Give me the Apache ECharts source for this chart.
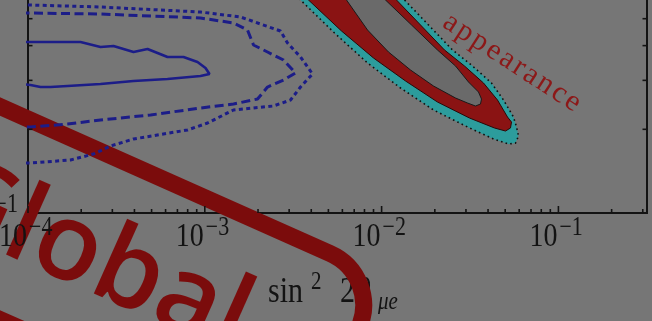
<!DOCTYPE html>
<html>
<head>
<meta charset="utf-8">
<script src="https://cdn.jsdelivr.net/npm/echarts@6/dist/echarts.min.js"></script>
<style>
  html, body { margin: 0; padding: 0; background: #767676; overflow: hidden; }
  /* the plot frame continues above the visible window */
  #chart { width: 652px; height: 386px; margin-top: -65px; }
</style>
</head>
<body>
<div id="chart"></div>
<script>
// ---- axes -------------------------------------------------------------
const xRange = [1e-4, 0.317];          // sin^2 2theta_mue
const yRange = [0.1, 1];               // mass splitting axis (log)
const xMajorTicks = [1e-4, 1e-3, 1e-2, 1e-1];
const xTickExp = ['\u22124', '\u22123', '\u22122', '\u22121'];
const xMinorTicks = [2e-4, 3e-4, 4e-4, 5e-4, 6e-4, 7e-4, 8e-4, 9e-4,
                     2e-3, 3e-3, 4e-3, 5e-3, 6e-3, 7e-3, 8e-3, 9e-3,
                     2e-2, 3e-2, 4e-2, 5e-2, 6e-2, 7e-2, 8e-2, 9e-2,
                     0.2, 0.3];
const yMajorTicks = [0.1];
const yTickExp = ['\u22121'];
const yMinorTicks = [0.2, 0.3, 0.4, 0.5, 0.6, 0.7, 0.8, 0.9];

// ---- appearance allowed region: [sin^2 2theta, dm^2] -------------------
const appearanceOuter = [
  [2.860e-3, 0.6607], [3.478e-3, 0.5837], [5.416e-3, 0.4441], [8.324e-3, 0.3464],
  [1.279e-2, 0.2816], [1.966e-2, 0.2347], [3.061e-2, 0.2039], [4.294e-2, 0.1846],
  [5.222e-2, 0.1770], [5.719e-2, 0.1785], [5.947e-2, 0.1892], [5.794e-2, 0.2039],
  [5.572e-2, 0.2214], [4.893e-2, 0.2549], [4.183e-2, 0.2935], [3.267e-2, 0.3379],
  [2.518e-2, 0.3857], [1.842e-2, 0.4746], [1.348e-2, 0.5837], [1.123e-2, 0.6607]
];
const appearanceMid = [
  [3.133e-3, 0.6607], [3.859e-3, 0.5837], [5.933e-3, 0.4515], [9.000e-3, 0.3610],
  [1.366e-2, 0.2984], [2.071e-2, 0.2507], [3.141e-2, 0.2196], [4.350e-2, 0.2022],
  [5.022e-2, 0.1972], [5.358e-2, 0.2022], [5.429e-2, 0.2124], [5.154e-2, 0.2214],
  [4.524e-2, 0.2549], [3.770e-2, 0.2935], [2.943e-2, 0.3379], [2.269e-2, 0.3857],
  [1.660e-2, 0.4746], [1.214e-2, 0.5837], [1.012e-2, 0.6607]
];
const appearanceInner = [
  [5.558e-3, 0.6607], [6.331e-3, 0.5837], [8.324e-3, 0.4553], [1.094e-2, 0.3794],
  [1.457e-2, 0.3269], [1.966e-2, 0.2863], [2.618e-2, 0.2592], [3.061e-2, 0.2487],
  [3.397e-2, 0.2426], [3.625e-2, 0.2466], [3.673e-2, 0.2570], [3.532e-2, 0.2724],
  [3.101e-2, 0.2959], [2.618e-2, 0.3379], [2.071e-2, 0.3857], [1.476e-2, 0.4746],
  [1.052e-2, 0.5837], [8.542e-3, 0.6607]
];

// ---- disappearance exclusion contours --------------------------------
const contourSolid = [
  [9.07e-5, 0.4122], [1.033e-4, 0.4122], [1.431e-4, 0.4122], [1.981e-4, 0.4122],
  [2.571e-4, 0.3954], [3.045e-4, 0.3987], [3.952e-4, 0.3794], [4.743e-4, 0.3889],
  [6.152e-4, 0.3640], [7.578e-4, 0.3640], [9.093e-4, 0.3493], [1.009e-3, 0.3323],
  [1.063e-3, 0.3162], [9.456e-4, 0.3110], [6.152e-4, 0.3034], [3.952e-4, 0.2984],
  [2.571e-4, 0.2911], [1.673e-4, 0.2863], [1.341e-4, 0.2839], [1.177e-4, 0.2839],
  [1.033e-4, 0.2887], [9.07e-5, 0.2911]
];
const contourDashed = [
  [9.07e-5, 0.5240], [1.033e-4, 0.5240], [2.571e-4, 0.5197], [9.456e-4, 0.5029],
  [1.453e-3, 0.4826], [1.744e-3, 0.4553], [1.886e-3, 0.4020], [2.263e-3, 0.3794],
  [2.787e-3, 0.3551], [3.258e-3, 0.3188], [2.787e-3, 0.3009], [2.263e-3, 0.2839],
  [1.987e-3, 0.2570], [1.453e-3, 0.2466], [9.456e-4, 0.2386], [4.931e-4, 0.2252],
  [2.571e-4, 0.2160], [1.673e-4, 0.2089], [1.033e-4, 0.2039], [9.07e-5, 0.2039]
];
const contourDotted = [
  [9.07e-5, 0.5600], [1.033e-4, 0.5600], [2.571e-4, 0.5508], [9.456e-4, 0.5284],
  [1.592e-3, 0.5070], [2.680e-3, 0.4515], [2.936e-3, 0.4088], [3.478e-3, 0.3640],
  [4.066e-3, 0.3162], [3.478e-3, 0.2839], [3.053e-3, 0.2549], [2.447e-3, 0.2426],
  [1.453e-3, 0.2347], [1.036e-3, 0.2107], [7.984e-4, 0.1989], [3.952e-4, 0.1846],
  [2.928e-4, 0.1742], [2.347e-4, 0.1630], [1.740e-4, 0.1551], [1.033e-4, 0.1513],
  [9.07e-5, 0.1513]
];

const regionLabel = 'appearance';
const stampText = 'Global';

// ---- styling ----------------------------------------------------------
const INK = '#131313';
const SERIF = '"Liberation Serif", "Times New Roman", serif';
const BLUE = '#1c1d88';
const STAMP_RED = '#7b0c0c';
const TEXT_STRETCH = 1.2;
const HIDDEN_TOP = 65;   // part of the canvas above the window

function polygonSeries(points, style, z) {
  return {
    type: 'custom', coordinateSystem: 'cartesian2d', silent: true, z: z,
    data: [points[0]],
    renderItem: function (params, api) {
      return { type: 'polygon', shape: { points: points.map(function (p) { return api.coord(p); }) }, style: style };
    }
  };
}

function contourSeries(points, width, dash, z) {
  return {
    type: 'line', data: points, symbol: 'none', silent: true, z: z, clip: true,
    lineStyle: { color: BLUE, width: width, type: dash }
  };
}

function txt(x, y, text, size, align, fontStyle) {
  return {
    type: 'text', x: x, y: y, scaleY: TEXT_STRETCH,
    style: { text: text, font: (fontStyle ? fontStyle + ' ' : '') + size + 'px ' + SERIF, fill: INK,
             textAlign: align, align: align, textVerticalAlign: 'middle', verticalAlign: 'middle' }
  };
}

const option = {
  animation: false,
  backgroundColor: '#767676',
  grid: { left: 28, right: 5, top: 0, bottom: 108, show: true,
          borderColor: INK, borderWidth: 2, backgroundColor: 'transparent' },
  xAxis: { type: 'log', logBase: 10, min: xRange[0], max: xRange[1],
           axisLine: { show: false }, axisTick: { show: false },
           axisLabel: { show: false }, splitLine: { show: false } },
  yAxis: { type: 'log', logBase: 10, min: yRange[0], max: yRange[1],
           axisLine: { show: false }, axisTick: { show: false },
           axisLabel: { show: false }, splitLine: { show: false } },
  series: [
    polygonSeries(appearanceOuter, { fill: '#2c9c9c', stroke: '#101010', lineWidth: 1.6, lineDash: [1.6, 3.2] }, 2),
    polygonSeries(appearanceMid, { fill: '#8a1313', stroke: '#2a0808', lineWidth: 1 }, 3),
    polygonSeries(appearanceInner, { fill: '#6a6a6a', stroke: '#1a1a1a', lineWidth: 1 }, 4),
    contourSeries(contourDotted, 3, [4, 3.4], 5),
    contourSeries(contourDashed, 3, [9, 4.5], 5),
    contourSeries(contourSolid, 2.6, 'solid', 5),
    // x ticks (inside, from the bottom frame)
    {
      type: 'custom', coordinateSystem: 'cartesian2d', silent: true, z: 6,
      data: xMajorTicks.map(function (v) { return [v, yRange[0], 7]; })
        .concat(xMinorTicks.map(function (v) { return [v, yRange[0], 4]; })),
      renderItem: function (params, api) {
        const p = api.coord([api.value(0), api.value(1)]);
        return { type: 'line', shape: { x1: p[0], y1: p[1], x2: p[0], y2: p[1] - api.value(2) },
                 style: { stroke: INK, lineWidth: 1.6 } };
      }
    },
    // y ticks on both frames
    {
      type: 'custom', coordinateSystem: 'cartesian2d', silent: true, z: 6,
      data: yMinorTicks.map(function (v) { return [xRange[0], v]; }),
      renderItem: function (params, api) {
        const l = api.coord([xRange[0], api.value(1)]);
        const r = api.coord([xRange[1], api.value(1)]);
        return { type: 'group', children: [
          { type: 'line', shape: { x1: l[0], y1: l[1], x2: l[0] + 4.5, y2: l[1] }, style: { stroke: INK, lineWidth: 1.6 } },
          { type: 'line', shape: { x1: r[0], y1: r[1], x2: r[0] - 4.5, y2: r[1] }, style: { stroke: INK, lineWidth: 1.6 } }
        ] };
      }
    },
    // x tick labels 10^n
    {
      type: 'custom', coordinateSystem: 'cartesian2d', silent: true, z: 7,
      data: xMajorTicks.map(function (v) { return [v, yRange[0]]; }),
      renderItem: function (params, api) {
        const p = api.coord([api.value(0), api.value(1)]);
        return { type: 'group', children: [
          txt(p[0] - 1, p[1] + 24, '10', 28, 'right'),
          txt(p[0] + 1, p[1] + 15.5, xTickExp[params.dataIndex], 22, 'left')
        ] };
      }
    },
    // y tick labels 10^n
    {
      type: 'custom', coordinateSystem: 'cartesian2d', silent: true, z: 7,
      data: yMajorTicks.map(function (v) { return [xRange[0], v]; }),
      renderItem: function (params, api) {
        const p = api.coord([api.value(0), api.value(1)]);
        return { type: 'group', children: [
          txt(p[0] - 33, p[1] + 1, '10', 28, 'right'),
          txt(p[0] - 10, p[1] - 8, yTickExp[params.dataIndex], 22, 'right')
        ] };
      }
    }
  ],
  graphic: []
};

// overlay layer, positioned in window pixels
const overlay = { type: 'group', x: 0, y: HIDDEN_TOP, silent: true, z: 40, children: [] };
option.graphic.push(overlay);

// axis title: sin^2 2theta_mue
overlay.children.push(
  txt(268, 292.5, 'sin', 30, 'left'),
  txt(311, 282.5, '2', 21, 'left'),
  txt(340, 292.5, '2', 30, 'left'),
  txt(356, 292.5, '\u03B8', 30, 'left', 'italic'),
  txt(378, 302.5, '\u03BCe', 21, 'left', 'italic')
);

// region annotation, letter by letter along a slanted baseline
(function () {
  const size = 30;
  const font = size + 'px ' + SERIF;
  const ctx = document.createElement('canvas').getContext('2d');
  ctx.font = font;
  const spacing = 2.6;
  const kids = [];
  let cx = 0;
  for (const ch of regionLabel) {
    kids.push({ type: 'text', x: cx, y: -0.3375 * size,
                style: { text: ch, font: font, fill: '#8c1818', textAlign: 'left', align: 'left',
                         textVerticalAlign: 'middle', verticalAlign: 'middle' } });
    cx += ctx.measureText(ch).width + spacing;
  }
  overlay.children.push({ type: 'group', x: 440, y: 28, rotation: -33 * Math.PI / 180, children: kids });
})();

// stamp overlay
overlay.children.push({
  type: 'group', x: -39.6, y: 88.8, rotation: -24 * Math.PI / 180,
  children: [
    { type: 'rect', shape: { x: -400, y: 0, width: 861.2, height: 194.6, r: 56.5 },
      style: { fill: 'none', stroke: STAMP_RED, lineWidth: 17 } },
    { type: 'text', x: 22, y: 102,
      style: { text: stampText, font: '600 108px "Open Sans", "Noto Sans", sans-serif', fill: STAMP_RED,
               textAlign: 'left', align: 'left', textVerticalAlign: 'middle', verticalAlign: 'middle' } }
  ]
});

const chart = echarts.init(document.getElementById('chart'), null, { renderer: 'canvas' });
chart.setOption(option);
</script>
</body>
</html>
